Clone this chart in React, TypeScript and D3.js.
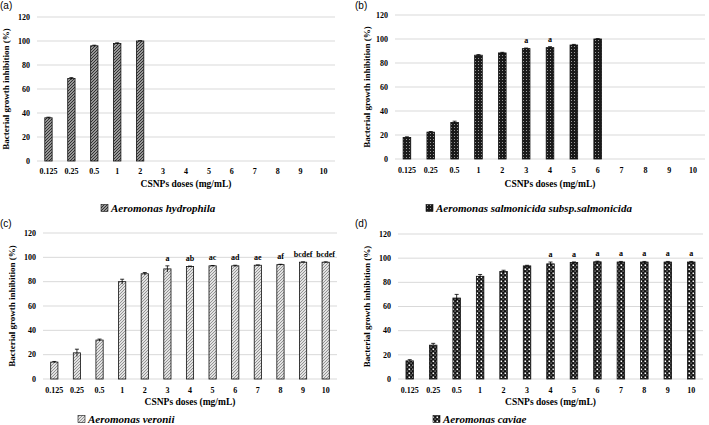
import React from 'react';
import * as d3 from 'd3';

// doses on the x axis
const doses = ['0.125', '0.25', '0.5', '1', '2', '3', '4', '5', '6', '7', '8', '9', '10'];
const yTicks = [0, 20, 40, 60, 80, 100, 120];

// inhibition (%) per species
const hydrophila = [36, 68.7, 96, 98, 100];
const hydrophilaSd = [0.5, 0.8, 0.5, 0.5, 0.3];
const hydrophilaLetters: string[] = [];

const salmonicida = [18, 22.4, 30.5, 86.5, 88.4, 92, 92.8, 95, 100];
const salmonicidaSd = [0.5, 0.5, 1, 0.5, 0.5, 0.5, 0.8, 0.5, 0.3];
const salmonicidaLetters = ['', '', '', '', '', 'a', 'a', '', ''];

const veronii = [13.9, 21.5, 32, 80, 86.5, 90.5, 92.5, 93, 93, 93.5, 94, 96, 96];
const veroniiSd = [0.5, 3, 0.8, 2, 1, 2.5, 0.3, 0.3, 0.5, 0.3, 0.3, 0.3, 0.3];
const veroniiLetters = ['', '', '', '', '', 'a', 'ab', 'ac', 'ad', 'ae', 'af', 'bcdef', 'bcdef'];

const caviae = [15, 28, 67, 85, 89, 93.6, 95.3, 96.4, 97, 96.8, 96.8, 96.8, 96.8];
const caviaeSd = [1, 1.5, 3, 1.5, 1, 0.5, 1.5, 0.5, 0.5, 0.5, 0.5, 0.5, 0.5];
const caviaeLetters = ['', '', '', '', '', '', 'a', 'a', 'a', 'a', 'a', 'a', 'a'];

const serif = '"Liberation Serif", "Times New Roman", serif';

type PanelProps = {
  tag: string;
  species: string;
  values: number[];
  sd: number[];
  letters: string[];
  pattern: string;
  x0: number; x1: number; yTop: number; yBot: number;
  tickY: number; titleY: number; legendY: number; legendX: number;
  yLabelX: number; tagY: number; tagX: number;
};

function Panel(p: PanelProps) {
  const x = d3.scaleBand<string>().domain(doses).range([p.x0, p.x1]).paddingInner(0.68).paddingOuter(0.34);
  const y = d3.scaleLinear().domain([0, 120]).range([p.yBot, p.yTop]);
  const bw = x.bandwidth();
  const midX = (p.x0 + p.x1) / 2;
  return (
    <g>
      <text x={p.tagX} y={p.tagY} fontFamily='"Liberation Sans", Arial, sans-serif' fontSize={10}>{p.tag}</text>
      {yTicks.map(t => (
        <g key={t}>
          <line x1={p.x0} x2={p.x1} y1={y(t)} y2={y(t)} stroke="#d9d9d9" strokeWidth={1} />
          <text x={p.x0 - 7} y={y(t)} dy="0.35em" textAnchor="end" fontFamily={serif} fontWeight="bold" fontSize={8}>{t}</text>
        </g>
      ))}
      {p.values.map((v, i) => {
        const cx = x(doses[i])! + bw / 2;
        const top = y(v + p.sd[i]);
        return (
          <g key={i}>
            <rect x={x(doses[i])} y={y(v)} width={bw} height={y(0) - y(v)} fill={`url(#${p.pattern})`} stroke="#111" strokeWidth={0.8} />
            <line x1={cx} x2={cx} y1={top} y2={y(v - p.sd[i])} stroke="#000" strokeWidth={0.8} />
            <line x1={cx - 2} x2={cx + 2} y1={top} y2={top} stroke="#000" strokeWidth={0.8} />
            {p.letters[i] ? (
              <text x={cx} y={top - 5} textAnchor="middle" fontFamily={serif} fontWeight="bold" fontSize={8} fill="#000">{p.letters[i]}</text>
            ) : null}
          </g>
        );
      })}
      {doses.map(d => (
        <text key={d} x={x(d)! + bw / 2} y={p.tickY} dy="0.35em" textAnchor="middle" fontFamily={serif} fontWeight="bold" fontSize={8}>{d}</text>
      ))}
      <text x={midX} y={p.titleY} dy="0.35em" textAnchor="middle" fontFamily={serif} fontWeight="bold" fontSize={9.5}>CSNPs doses (mg/mL)</text>
      <text transform={`translate(${p.yLabelX},${(p.yTop + p.yBot) / 2}) rotate(-90)`} dy="0.35em" textAnchor="middle" fontFamily={serif} fontWeight="bold" fontSize={9}>Bacterial growth inhibition (%)</text>
      <rect x={p.legendX} y={p.legendY - 3.5} width={7} height={7} fill={`url(#${p.pattern})`} stroke="#111" strokeWidth={0.6} />
      <text x={p.legendX + 10} y={p.legendY} dy="0.35em" fontFamily={serif} fontWeight="bold" fontStyle="italic" fontSize={11}>{p.species}</text>
    </g>
  );
}

export default function App() {
  return (
    <svg width={709} height={425} style={{ position: 'absolute', left: 0, top: 0, background: '#fff' }}>
      <defs>
        <pattern id="patA" width={3} height={3} patternUnits="userSpaceOnUse">
          <rect width={3} height={3} fill="#c4c4c4" />
          <path d="M0,3 L3,0 M-1,1 L1,-1 M2,4 L4,2" stroke="#2a2a2a" strokeWidth={1.1} />
        </pattern>
        <pattern id="patB" width={3} height={3} patternUnits="userSpaceOnUse">
          <rect width={3} height={3} fill="#1a1a1a" />
          <rect x={1} y={1} width={1} height={1} fill="#9a9a9a" />
        </pattern>
        <pattern id="patC" width={3} height={3} patternUnits="userSpaceOnUse">
          <rect width={3} height={3} fill="#e2e2e2" />
          <path d="M0,3 L3,0 M-1,1 L1,-1 M2,4 L4,2" stroke="#8a8a8a" strokeWidth={0.9} />
        </pattern>
        <pattern id="patD" width={4} height={4} patternUnits="userSpaceOnUse">
          <rect width={4} height={4} fill="#111" />
          <rect x={0.5} y={0.5} width={1.6} height={1.6} fill="#fff" />
          <rect x={2.5} y={2.5} width={1.2} height={1.2} fill="#aaa" />
        </pattern>
      </defs>
      <Panel tag="(a)" species="Aeromonas hydrophila" values={hydrophila} sd={hydrophilaSd} letters={hydrophilaLetters} pattern="patA"
        x0={37} x1={335} yTop={17} yBot={161} tickY={171} titleY={184} legendY={208} legendX={101} yLabelX={6} tagY={9} tagX={0} />
      <Panel tag="(b)" species="Aeromonas salmonicida subsp.salmonicida" values={salmonicida} sd={salmonicidaSd} letters={salmonicidaLetters} pattern="patB"
        x0={395} x1={705} yTop={15} yBot={159} tickY={170} titleY={184} legendY={208} legendX={426} yLabelX={367} tagY={9} tagX={355} />
      <Panel tag="(c)" species="Aeromonas veronii" values={veronii} sd={veroniiSd} letters={veroniiLetters} pattern="patC"
        x0={43} x1={337} yTop={233} yBot={379} tickY={390} titleY={402} legendY={419} legendX={78} yLabelX={12} tagY={227} tagX={0} />
      <Panel tag="(d)" species="Aeromonas caviae" values={caviae} sd={caviaeSd} letters={caviaeLetters} pattern="patD"
        x0={398} x1={703} yTop={234} yBot={379} tickY={390} titleY={402} legendY={419} legendX={433} yLabelX={367} tagY={227} tagX={355} />
    </svg>
  );
}
